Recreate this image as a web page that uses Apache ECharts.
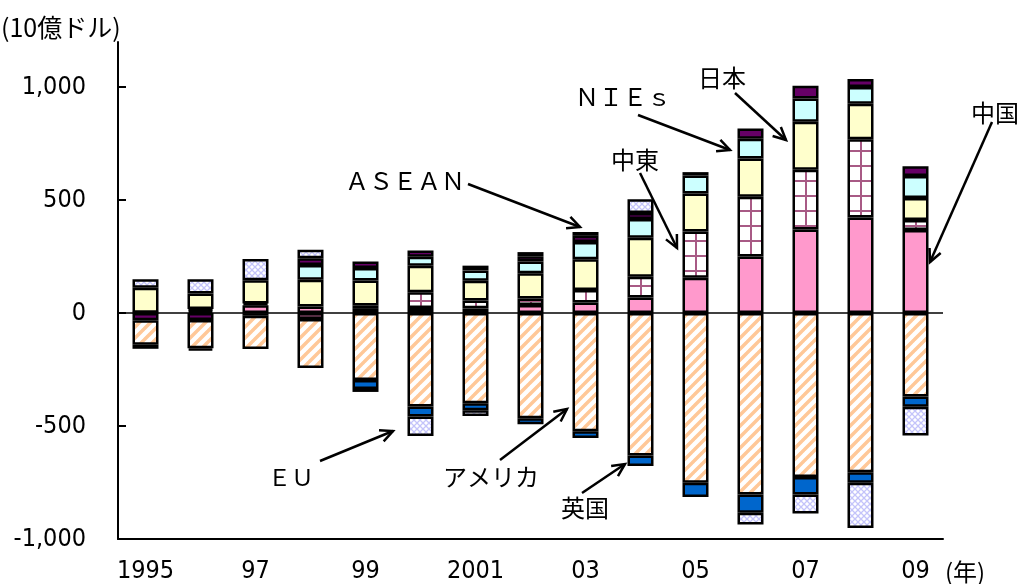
<!DOCTYPE html>
<html>
<head>
<meta charset="utf-8">
<script src="https://cdn.jsdelivr.net/npm/echarts@6/dist/echarts.min.js"></script>
<style>
  html, body { margin: 0; padding: 0; background: #fff; }
  #chart { width: 1020px; height: 584px; }
</style>
</head>
<body>
<div id="chart"></div>
<script>
// 経常収支（10億ドル）
const years = ['1995', '1996', '1997', '1998', '1999', '2000', '2001', '2002', '2003', '2004', '2005', '2006', '2007', '2008', '2009'];
const xLabels = ['1995', '', '97', '', '99', '', '2001', '', '03', '', '05', '', '07', '', '09'];
const yTicks = [-1000, -500, 0, 500, 1000];

const china      = [2, 10, 35, 29, 22, 23, 21, 36, 47, 69, 156, 251, 370, 423, 368];
const middleEast = [null, 8, 8, -26, 12, 69, 35, 29, 55, 92, 205, 264, 265, 346, 44];
const japan      = [110, 69, 102, 119, 110, 118, 87, 111, 136, 173, 168, 169, 212, 158, 97];
const nies       = [null, null, null, 65, 56, 39, 46, 52, 77, 82, 80, 88, 103, 74, 98];
const asean      = [-32, -31, -12, 30, 28, 28, 21, 24, 27, 27, 15, 45, 56, 35, 43];
const usa        = [-108, -125, -147, -217, -296, -414, -399, -465, -523, -630, -751, -803, -725, -705, -369];
const uk         = [-18, -10, null, null, -40, -44, -31, -27, -30, -47, -63, -81, -78, -46, -46];
const eu         = [38, 63, 94, 37, -13, -86, -26, 18, 17, 61, null, -52, -84, -200, -127];

// 塗りパターン
function makeCanvas(w, h) {
  const c = document.createElement('canvas');
  c.width = w; c.height = h;
  const g = c.getContext('2d');
  g.fillStyle = '#fff';
  g.fillRect(0, 0, w, h);
  return [c, g];
}
function stripes() {
  const [c, g] = makeCanvas(11, 11);
  g.strokeStyle = '#FFC898';
  g.lineWidth = 3.5;
  g.beginPath();
  g.moveTo(-1, 12); g.lineTo(12, -1);
  g.moveTo(-1, 1); g.lineTo(1, -1);
  g.moveTo(10, 12); g.lineTo(12, 10);
  g.stroke();
  return c;
}
function crossHatch() {
  const [c, g] = makeCanvas(6, 6);
  g.strokeStyle = '#C4C4FA';
  g.lineWidth = 1.3;
  g.beginPath();
  g.moveTo(0, 0); g.lineTo(6, 6);
  g.moveTo(6, 0); g.lineTo(0, 6);
  g.stroke();
  return c;
}
function gridPattern() {
  // 55px = 1カテゴリ幅、縦線を棒の中心にそろえる
  const [c, g] = makeCanvas(55, 15);
  g.fillStyle = '#A85A85';
  g.fillRect(35, 0, 2, 15);
  g.fillRect(0, 0, 55, 2);
  return c;
}

const pat = (cv) => ({ image: cv, repeat: 'repeat' });
const border = { borderColor: '#000', borderWidth: 2.5 };

function bar(name, data, color) {
  return {
    name: name,
    type: 'bar',
    stack: 'total',
    barWidth: 26,
    data: data,
    itemStyle: Object.assign({ color: color }, border),
    emphasis: { disabled: true }
  };
}

const series = [
  bar('中国', china, '#FF99CC'),
  bar('中東', middleEast, pat(gridPattern())),
  bar('日本', japan, '#FFFFCC'),
  bar('NIEs', nies, '#CCFFFF'),
  bar('ASEAN', asean, '#660066'),
  bar('アメリカ', usa, pat(stripes())),
  bar('英国', uk, '#0066CC'),
  bar('EU', eu, pat(crossHatch()))
];
series[0].markLine = {
  silent: true,
  symbol: 'none',
  label: { show: false },
  lineStyle: { color: '#000', width: 1.5, type: 'solid' },
  data: [{ yAxis: 0 }]
};

const jp = 'Noto Sans CJK JP';
const cond = 'DejaVu Sans Condensed';

function label(text, x, y, size) {
  return {
    type: 'text',
    style: { text: text, x: x, y: y, fill: '#000', fontSize: size, fontFamily: jp, align: 'left', verticalAlign: 'middle' }
  };
}
function arrow(x1, y1, x2, y2) {
  const a = Math.atan2(y2 - y1, x2 - x1), L = 14, w = 0.45;
  const p1 = [x2 - L * Math.cos(a - w), y2 - L * Math.sin(a - w)];
  const p2 = [x2 - L * Math.cos(a + w), y2 - L * Math.sin(a + w)];
  return [
    { type: 'line', shape: { x1: x1, y1: y1, x2: x2, y2: y2 }, style: { stroke: '#000', lineWidth: 2.5 } },
    { type: 'polyline', shape: { points: [p1, [x2, y2], p2] }, style: { stroke: '#000', lineWidth: 2.5, fill: null } }
  ];
}

const graphics = [
  label('(10億ドル)', 1, 27, 25),
  label('(年)', 945, 572, 24),
  label('ＡＳＥＡＮ', 345, 181, 24),
  label('ＮＩＥｓ', 575, 97, 24),
  label('日本', 698, 78, 24),
  label('中東', 611, 160, 24),
  label('中国', 971, 113, 24),
  label('ＥＵ', 268, 477, 23),
  label('アメリカ', 443, 477, 24),
  label('英国', 561, 508, 24)
].concat(
  arrow(468, 184, 580, 227),
  arrow(638, 115, 730, 150),
  arrow(735, 93, 786, 140),
  arrow(640, 173, 677, 248),
  arrow(992, 122, 930, 262),
  arrow(320, 461, 393, 431),
  arrow(500, 460, 567, 409),
  arrow(582, 493, 625, 464)
);

const chart = echarts.init(document.getElementById('chart'), null, { renderer: 'canvas' });
chart.setOption({
  animation: false,
  backgroundColor: '#fff',
  grid: { left: 118, right: 77, top: 42, bottom: 44 },
  xAxis: {
    type: 'category',
    data: years,
    axisLine: { onZero: false, lineStyle: { color: '#000', width: 2 } },
    axisTick: { inside: true, length: 7, interval: 0, lineStyle: { color: '#000', width: 2 } },
    axisLabel: {
      interval: 0,
      margin: 20,
      color: '#000',
      fontSize: 25,
      fontFamily: cond,
      formatter: (v, i) => xLabels[i]
    },
    splitLine: { show: false }
  },
  yAxis: {
    type: 'value',
    min: -1000,
    max: 1200,
    axisLine: { show: true, lineStyle: { color: '#000', width: 2 } },
    axisTick: { show: true, inside: true, length: 8, customValues: yTicks, lineStyle: { color: '#000', width: 2 } },
    axisLabel: {
      customValues: yTicks,
      margin: 32,
      color: '#000',
      fontSize: 25,
      fontFamily: cond,
      formatter: (v) => v.toLocaleString('en-US')
    },
    splitLine: { show: false }
  },
  series: series,
  graphic: graphics
});
</script>
</body>
</html>
